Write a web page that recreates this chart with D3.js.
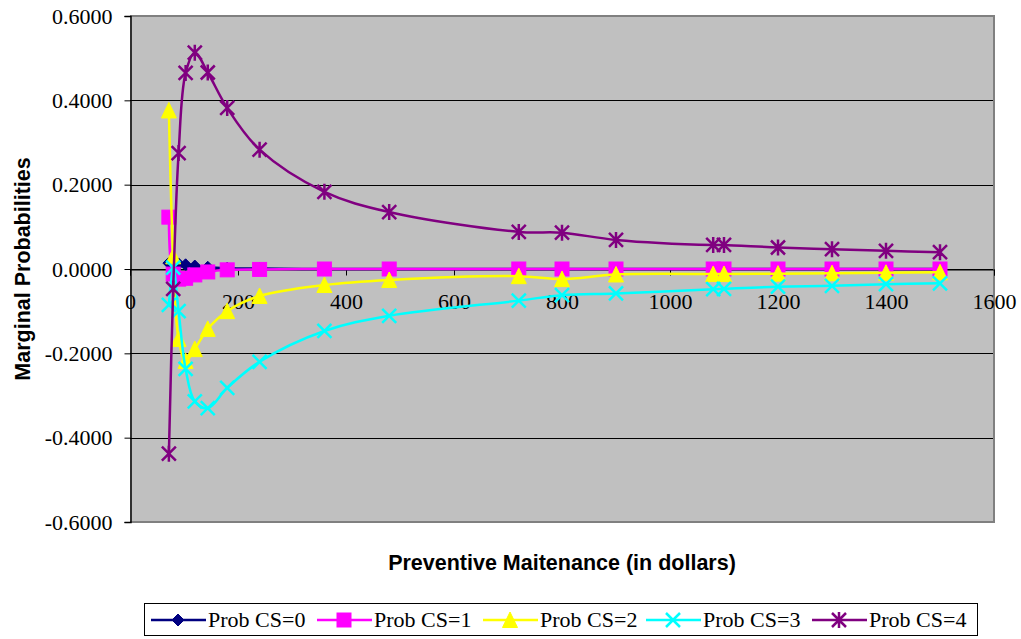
<!DOCTYPE html>
<html>
<head>
<meta charset="utf-8">
<script src="https://cdn.jsdelivr.net/npm/d3@7"></script>
<style>
  html, body { margin: 0; padding: 0; background: #ffffff; }
  svg { display: block; }
</style>
</head>
<body>
<svg id="chart" width="1021" height="639"></svg>
<script>
// Preventive maintenance spend (dollars)
const maintenance = [72, 80, 90, 103, 120, 144, 180, 240, 360, 480, 720, 800, 900, 1080, 1100, 1200, 1300, 1400, 1500];

// Marginal probability of each condition state
const probCS0 = [0.014, 0.008, 0.012, 0.010, 0.007, 0.004, 0.002, 0.001, 0.000, 0.000, 0.000, 0.000, 0.000, 0.000, 0.000, 0.000, 0.000, 0.000, 0.000];
const probCS1 = [0.123, -0.012, -0.024, -0.022, -0.014, -0.007, -0.002, -0.001, 0.000, 0.000, 0.000, 0.000, 0.000, 0.000, 0.000, 0.000, 0.000, 0.000, 0.000];
const probCS2 = [0.376, 0.030, -0.166, -0.218, -0.190, -0.142, -0.100, -0.064, -0.038, -0.026, -0.017, -0.024, -0.013, -0.012, -0.012, -0.011, -0.010, -0.009, -0.008];
const probCS3 = [-0.085, 0.003, -0.100, -0.237, -0.314, -0.330, -0.282, -0.220, -0.147, -0.111, -0.075, -0.062, -0.058, -0.048, -0.047, -0.042, -0.040, -0.036, -0.034];
const probCS4 = [-0.438, -0.047, 0.275, 0.465, 0.513, 0.466, 0.382, 0.283, 0.183, 0.135, 0.088, 0.086, 0.069, 0.057, 0.057, 0.051, 0.047, 0.043, 0.040];

const seriesNames = ["Prob CS=0", "Prob CS=1", "Prob CS=2", "Prob CS=3", "Prob CS=4"];
const xTicks = [0, 200, 400, 600, 800, 1000, 1200, 1400, 1600];
const yTicks = [-0.6, -0.4, -0.2, 0, 0.2, 0.4, 0.6];

const allSeries = [probCS0, probCS1, probCS2, probCS3, probCS4];
const colors = ["#000080", "#FF00FF", "#FFFF00", "#00FFFF", "#800080"];
const markerKinds = ["diamond", "square", "triangle", "cross", "star"];

const svg = d3.select("#chart");
const plot = { left: 130, right: 994, top: 16, bottom: 522 };

const x = d3.scaleLinear().domain([0, 1600]).range([plot.left, plot.right]);
const y = d3.scaleLinear().domain([-0.6, 0.6]).range([plot.bottom, plot.top]);

// plot background
svg.append("rect")
  .attr("x", plot.left).attr("y", plot.top)
  .attr("width", plot.right - plot.left).attr("height", plot.bottom - plot.top)
  .attr("fill", "#C0C0C0");

// horizontal gridlines
svg.append("g")
  .selectAll("line")
  .data(yTicks.filter(v => v > -0.6 && v < 0.6))
  .join("line")
  .attr("x1", plot.left).attr("x2", plot.right)
  .attr("y1", d => Math.round(y(d)) + 0.5).attr("y2", d => Math.round(y(d)) + 0.5)
  .attr("stroke", "#000").attr("stroke-width", 1);

// plot border (top, right, bottom)
svg.append("path")
  .attr("d", `M${plot.left},${plot.top}H${plot.right}V${plot.bottom}H${plot.left}`)
  .attr("fill", "none").attr("stroke", "#808080").attr("stroke-width", 2);

const serif = "'Liberation Serif', 'Times New Roman', serif";
const sans = "'Liberation Sans', Arial, sans-serif";

// y axis
const yAxis = svg.append("g")
  .attr("transform", `translate(${plot.left + 0.5},0)`)
  .call(d3.axisLeft(y).tickValues(yTicks).tickSize(6).tickPadding(12)
    .tickFormat(v => v.toFixed(4)));
yAxis.select(".domain").attr("stroke", "#000").attr("stroke-width", 1.5);
yAxis.selectAll(".tick line").attr("stroke", "#000");
yAxis.selectAll(".tick text").attr("font-family", serif).attr("font-size", 22).attr("fill", "#000");

// x axis crossing at zero
const xAxis = svg.append("g")
  .attr("transform", `translate(0,${Math.round(y(0)) + 0.5})`)
  .call(d3.axisBottom(x).tickValues(xTicks).tickSize(6).tickPadding(18)
    .tickFormat(d3.format("d")));
xAxis.select(".domain").attr("stroke", "#000").attr("stroke-width", 1);
xAxis.selectAll(".tick line").attr("stroke", "#000");
xAxis.selectAll(".tick text").attr("font-family", serif).attr("font-size", 22).attr("fill", "#000");

// axis titles
svg.append("text")
  .attr("transform", `translate(30,${(plot.top + plot.bottom) / 2}) rotate(-90)`)
  .attr("text-anchor", "middle")
  .attr("font-family", sans).attr("font-weight", "bold").attr("font-size", 21.5)
  .text("Marginal Probabilities");

svg.append("text")
  .attr("x", (plot.left + plot.right) / 2).attr("y", 570)
  .attr("text-anchor", "middle")
  .attr("font-family", sans).attr("font-weight", "bold").attr("font-size", 21.5)
  .text("Preventive Maitenance (in dollars)");

// marker drawing
function drawMarker(g, kind, color) {
  if (kind === "diamond") {
    g.append("path").attr("d", "M0,-6L6,0L0,6L-6,0Z").attr("fill", color).attr("stroke", color).attr("stroke-width", 1);
  } else if (kind === "square") {
    g.append("rect").attr("x", -7).attr("y", -7).attr("width", 14).attr("height", 14)
      .attr("fill", color).attr("stroke", color).attr("stroke-width", 1);
  } else if (kind === "triangle") {
    g.append("path").attr("d", "M0,-8L7.5,7.5L-7.5,7.5Z").attr("fill", color).attr("stroke", color).attr("stroke-width", 1);
  } else if (kind === "cross") {
    g.append("path").attr("d", "M-7,-7L7,7M7,-7L-7,7").attr("stroke", color).attr("stroke-width", 2.5).attr("fill", "none");
  } else if (kind === "star") {
    g.append("path").attr("d", "M-7,-7L7,7M7,-7L-7,7M0,-8V8").attr("stroke", color).attr("stroke-width", 2.5).attr("fill", "none");
  }
}

const line = d3.line()
  .x(d => x(d[0]))
  .y(d => y(d[1]))
  .curve(d3.curveCatmullRom.alpha(0.5));

allSeries.forEach((vals, i) => {
  const pts = maintenance.map((m, j) => [m, vals[j]]);
  const g = svg.append("g");
  g.append("path").datum(pts)
    .attr("d", line)
    .attr("fill", "none").attr("stroke", colors[i]).attr("stroke-width", 2.5);
  g.selectAll("g.mk").data(pts).join("g")
    .attr("class", "mk")
    .attr("transform", d => `translate(${x(d[0])},${y(d[1])})`)
    .each(function () { drawMarker(d3.select(this), markerKinds[i], colors[i]); });
});

// legend
const legend = svg.append("g");
legend.append("rect")
  .attr("x", 144.5).attr("y", 603.5).attr("width", 833).attr("height", 32)
  .attr("fill", "#fff").attr("stroke", "#000").attr("stroke-width", 1);

const legendX = [151, 317, 483, 646, 812];
seriesNames.forEach((name, i) => {
  const item = legend.append("g").attr("transform", `translate(${legendX[i]},620)`);
  item.append("line").attr("x1", 0).attr("x2", 55).attr("y1", 0).attr("y2", 0)
    .attr("stroke", colors[i]).attr("stroke-width", 2.5);
  drawMarker(item.append("g").attr("transform", "translate(27,0)"), markerKinds[i], colors[i]);
  item.append("text").attr("x", 57).attr("y", 7)
    .attr("font-family", serif).attr("font-size", 22).attr("fill", "#000")
    .text(name);
});
</script>
</body>
</html>
